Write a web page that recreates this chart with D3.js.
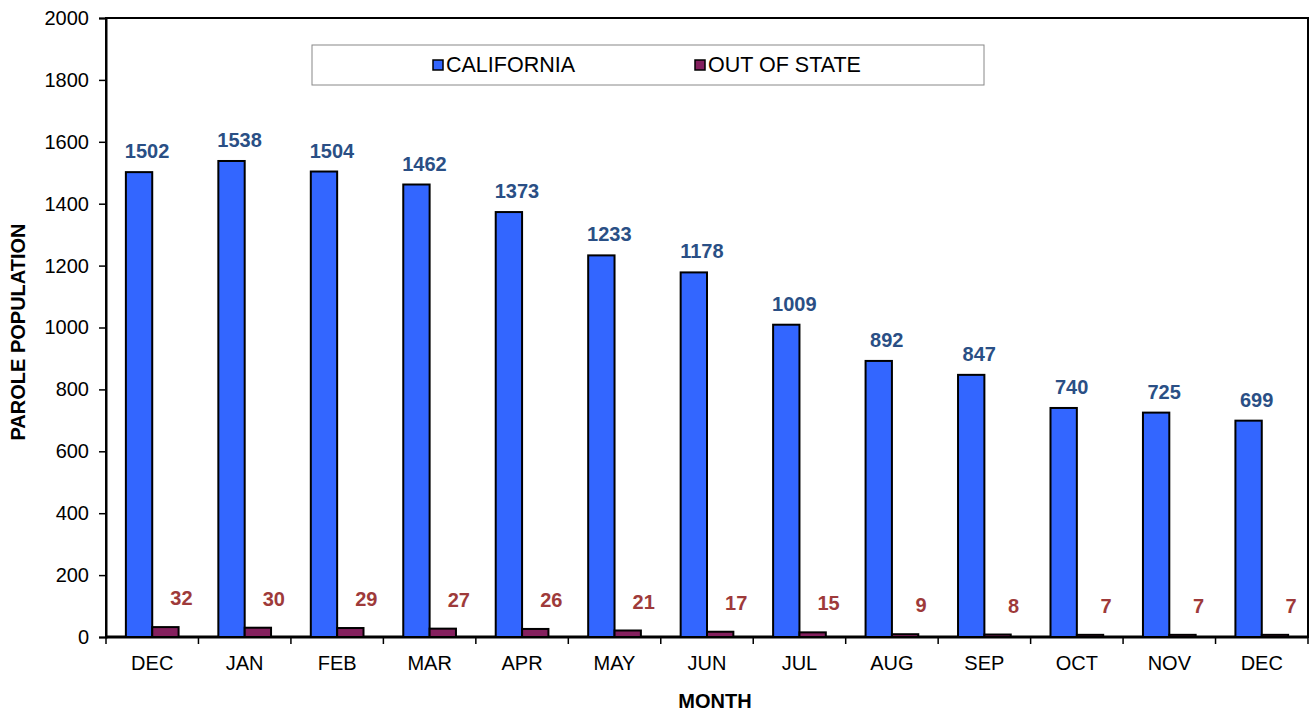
<!DOCTYPE html>
<html>
<head>
<meta charset="utf-8">
<script src="https://cdn.jsdelivr.net/npm/d3@7"></script>
<style>
  body { margin: 0; background: #fff; }
  svg text { font-family: "Liberation Sans", Arial, sans-serif; }
</style>
</head>
<body>
<svg id="chart" width="1310" height="713"></svg>
<script>
// data
const months = ['DEC', 'JAN', 'FEB', 'MAR', 'APR', 'MAY', 'JUN', 'JUL', 'AUG', 'SEP', 'OCT', 'NOV', 'DEC']
const california = [1502, 1538, 1504, 1462, 1373, 1233, 1178, 1009, 892, 847, 740, 725, 699]
const outOfState = [32, 30, 29, 27, 26, 21, 17, 15, 9, 8, 7, 7, 7]
const yTicks = [0, 200, 400, 600, 800, 1000, 1200, 1400, 1600, 1800, 2000]
const seriesNames = ['CALIFORNIA', 'OUT OF STATE']
const colors = ['#3366FF', '#84205E']
const labelColors = ['#2A4F85', '#9E3A3A']

const svg = d3.select('#chart'),
  margin = { top: 18, right: 2, bottom: 76, left: 106 },
  width = 1310 - margin.left - margin.right,
  height = 713 - margin.top - margin.bottom,
  g = svg.append('g').attr('transform', 'translate(' + margin.left + ',' + margin.top + ')')

const idx = months.map((m, i) => i)

const x = d3.scaleBand()
  .domain(idx)
  .range([0, width])
  .paddingInner(0.43)
  .paddingOuter(0.215)

const x1 = d3.scaleBand()
  .domain([0, 1])
  .range([0, x.bandwidth()])

const y = d3.scaleLinear()
  .domain([0, 2000])
  .range([height, 0])

// frame
g.append('rect')
  .attr('width', width).attr('height', height)
  .attr('fill', 'none').attr('stroke', '#000').attr('stroke-width', 2)

// y axis
const yAxis = g.append('g')
  .call(d3.axisLeft(y).tickValues(yTicks).tickSize(7).tickPadding(10).tickFormat(d3.format('d')))
yAxis.select('.domain').attr('stroke-width', 2)
yAxis.selectAll('line').attr('stroke-width', 1.5)
yAxis.selectAll('text').attr('font-size', 20).attr('fill', '#000')

// x axis with ticks between groups
const xAxis = g.append('g')
  .attr('transform', 'translate(0,' + height + ')')
xAxis.append('line')
  .attr('x1', 0).attr('x2', width)
  .attr('stroke', '#000').attr('stroke-width', 3)
const step = x.step()
const bounds = d3.range(months.length + 1).map(i => i * step)
xAxis.selectAll('.tk')
  .data(bounds)
  .join('line')
  .attr('class', 'tk')
  .attr('x1', d => d).attr('x2', d => d)
  .attr('y1', 0).attr('y2', 7)
  .attr('stroke', '#000').attr('stroke-width', 1.5)
xAxis.selectAll('.lbl')
  .data(idx)
  .join('text')
  .attr('class', 'lbl')
  .attr('x', i => x(i) + x.bandwidth() / 2)
  .attr('y', 33)
  .attr('text-anchor', 'middle')
  .attr('font-size', 20)
  .text(i => months[i])

// bars
const series = [california, outOfState]
series.forEach((vals, s) => {
  g.selectAll('.bar' + s)
    .data(idx)
    .join('rect')
    .attr('class', 'bar' + s)
    .attr('x', i => x(i) + x1(s))
    .attr('y', i => y(vals[i]))
    .attr('width', x1.bandwidth())
    .attr('height', i => height - y(vals[i]))
    .attr('fill', colors[s])
    .attr('stroke', '#000')
    .attr('stroke-width', 2)
})

// value labels
g.selectAll('.vl0')
  .data(idx)
  .join('text')
  .attr('class', 'vl0')
  .attr('x', i => x(i) + x1(0) + x1.bandwidth() / 2 + 8)
  .attr('y', i => y(california[i]) - 14)
  .attr('text-anchor', 'middle')
  .attr('font-size', 20).attr('font-weight', 'bold')
  .attr('fill', labelColors[0])
  .text(i => california[i])

g.selectAll('.vl1')
  .data(idx)
  .join('text')
  .attr('class', 'vl1')
  .attr('x', i => x(i) + x1(1) + x1.bandwidth() / 2 + 16)
  .attr('y', i => y(outOfState[i]) - 22)
  .attr('text-anchor', 'middle')
  .attr('font-size', 20).attr('font-weight', 'bold')
  .attr('fill', labelColors[1])
  .text(i => outOfState[i])

// legend
const legend = svg.append('g').attr('transform', 'translate(312,45)')
legend.append('rect')
  .attr('width', 672).attr('height', 40)
  .attr('fill', '#fff').attr('stroke', '#888').attr('stroke-width', 1)
const legX = [121, 383]
seriesNames.forEach((name, s) => {
  legend.append('rect')
    .attr('x', legX[s]).attr('y', 15)
    .attr('width', 10).attr('height', 10)
    .attr('fill', colors[s]).attr('stroke', '#000').attr('stroke-width', 1.5)
  legend.append('text')
    .attr('x', legX[s] + 13).attr('y', 27)
    .attr('font-size', 21.5)
    .text(name)
})

// axis titles
svg.append('text')
  .attr('transform', 'translate(25,332) rotate(-90)')
  .attr('text-anchor', 'middle')
  .attr('font-size', 20).attr('font-weight', 'bold')
  .text('PAROLE POPULATION')
svg.append('text')
  .attr('x', 715).attr('y', 708)
  .attr('text-anchor', 'middle')
  .attr('font-size', 20).attr('font-weight', 'bold')
  .text('MONTH')
</script>
</body>
</html>
